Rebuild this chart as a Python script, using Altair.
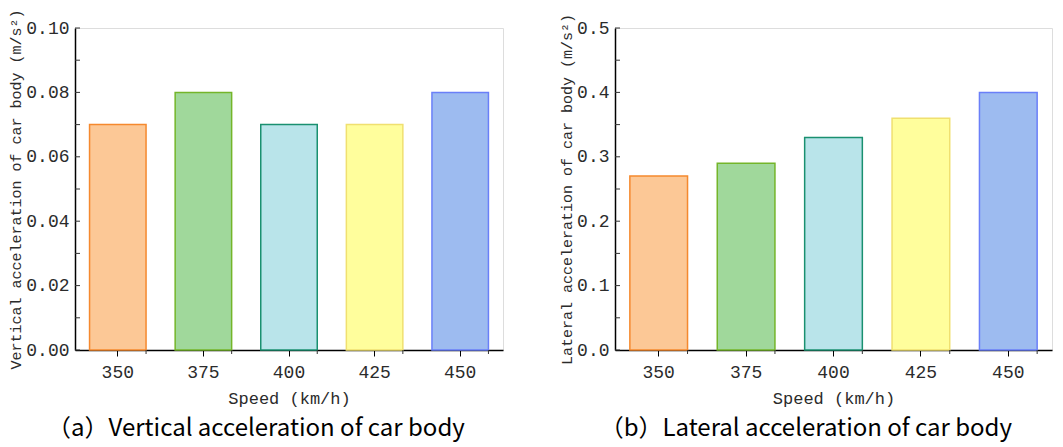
import altair as alt
import pandas as pd

speeds = ["350", "375", "400", "425", "450"]
vertical = [0.07, 0.08, 0.07, 0.07, 0.08]
lateral = [0.27, 0.29, 0.33, 0.36, 0.40]
fills = ["#FCC896", "#A0D89B", "#B9E4EA", "#FFFE9C", "#9DBBF0"]
strokes = ["#F5892E", "#74B52A", "#1A9070", "#F0E070", "#6A7FF8"]

v_ticks = [0.0, 0.01, 0.02, 0.03, 0.04, 0.05, 0.06, 0.07, 0.08, 0.09, 0.10]
l_ticks = [0.0, 0.05, 0.1, 0.15, 0.2, 0.25, 0.3, 0.35, 0.4, 0.45, 0.5]

MONO = "Liberation Mono"
CAP = "Noto Sans CJK SC"
TXT = "#2b2b2b"


def panel(values, ymax, major, ticks, ytitle, caption, width, height, fmt):
    df = pd.DataFrame({"speed": speeds, "value": values, "fill": fills, "stroke": strokes})
    tdf = pd.DataFrame({"t": ticks})
    xscale = alt.Scale(domain=speeds, paddingInner=0.34, paddingOuter=0.17)
    yscale = alt.Scale(domain=[0, ymax], nice=False)
    bars = alt.Chart(df).mark_bar(strokeWidth=1.5).encode(
        x=alt.X("speed:N", scale=xscale, sort=speeds,
                axis=alt.Axis(title="Speed (km/h)", labelAngle=0, labelFont=MONO, labelFontSize=18,
                              labelColor=TXT, titleFont=MONO, titleFontSize=17,
                              titleFontWeight="normal", titleColor=TXT, tickSize=6,
                              tickColor="#000000", domainColor="#000000", domainWidth=1.5,
                              labelPadding=7, titlePadding=9)),
        y=alt.Y("value:Q", scale=yscale,
                axis=alt.Axis(title=ytitle, values=major, format=fmt, ticks=False,
                              labelFont=MONO, labelFontSize=18, labelColor=TXT,
                              titleFont=MONO, titleFontSize=15, titleFontWeight="normal",
                              titleColor=TXT, domainColor="#000000", domainWidth=1.5,
                              labelPadding=6, titlePadding=2, grid=False)),
        fill=alt.Color("fill:N", scale=None),
        stroke=alt.Color("stroke:N", scale=None),
    )
    yt = alt.Chart(tdf).mark_rule(color="#333333", strokeWidth=1).encode(
        y=alt.Y("t:Q", scale=yscale), x=alt.value(0), x2=alt.value(5)
    )
    xt = alt.Chart(pd.DataFrame({"speed": speeds})).mark_rule(color="#333333", strokeWidth=1).encode(
        x=alt.X("speed:N", scale=xscale, sort=speeds, bandPosition=1),
        y=alt.value(height), y2=alt.value(height + 4),
    )
    return alt.layer(bars, yt, xt).properties(
        width=width, height=height,
        title=alt.TitleParams(caption, orient="bottom", font=CAP, fontSize=24,
                              fontWeight="normal", color="#000000", offset=11, anchor="middle",
                              frame="bounds"),
    )


left = panel(vertical, 0.10, [0, 0.02, 0.04, 0.06, 0.08, 0.10], v_ticks,
             "Vertical acceleration of car body (m/s²)", "（a）Vertical acceleration of car body",
             428, 322, ".2f")
right = panel(lateral, 0.5, [0, 0.1, 0.2, 0.3, 0.4, 0.5], l_ticks,
              "Lateral acceleration of car body (m/s²)", "（b）Lateral acceleration of car body",
              437, 322, ".1f")

chart = alt.hconcat(left, right, spacing=55).configure_view(stroke=None).configure(
    padding={"left": 0, "top": 0, "right": 0, "bottom": 0}
)
chart.save("out.html", embed_options={"renderer": "svg", "actions": False})
